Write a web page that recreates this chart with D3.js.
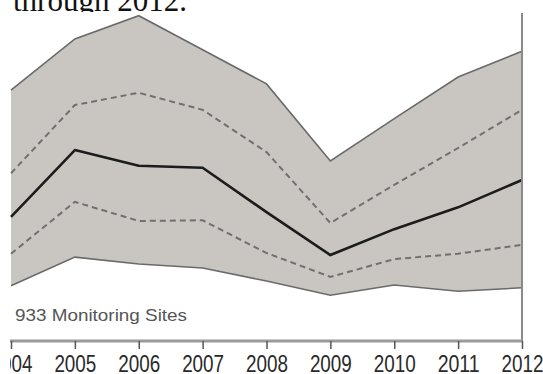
<!DOCTYPE html>
<html>
<head>
<meta charset="utf-8">
<script src="https://cdn.jsdelivr.net/npm/d3@7"></script>
<style>
  html, body { margin: 0; padding: 0; background: #fff; }
  svg { display: block; }
</style>
</head>
<body>
<script>
// ---- data (ozone concentration, ppm) ----
const years = [2004, 2005, 2006, 2007, 2008, 2009, 2010, 2011, 2012];
const p90   = [0.0868, 0.0943, 0.0977, 0.0927, 0.0877, 0.0764, 0.0826, 0.0887, 0.0925];
const p75   = [0.0746, 0.0846, 0.0864, 0.0839, 0.0777, 0.0673, 0.0729, 0.0783, 0.0839];
const p50   = [0.0682, 0.0780, 0.0757, 0.0754, 0.0689, 0.0626, 0.0664, 0.0696, 0.0736];
const p25   = [0.0628, 0.0704, 0.0676, 0.0677, 0.0629, 0.0594, 0.0620, 0.0628, 0.0641];
const p10   = [0.0581, 0.0623, 0.0613, 0.0607, 0.0588, 0.0567, 0.0582, 0.0573, 0.0578];
const tickLabels = ["2004","2005","2006","2007","2008","2009","2010","2011","2012"];
const headText = "through 2012.";
const noteText = "933 Monitoring Sites";

const W = 543, H = 374;
const svg = d3.select("body").append("svg").attr("width", W).attr("height", H);

const x = d3.scaleLinear().domain([2004, 2012]).range([11, 522]);
const y = d3.scaleLinear().domain([0.05, 0.10]).range([341, 0]);

// heading text (partially cut at top)
svg.append("text")
  .attr("x", 13).attr("y", 11)
  .attr("font-family", "'Liberation Serif', 'Times New Roman', serif")
  .attr("font-size", 31)
  .attr("fill", "#111")
  .text(headText);

// clip for chart
svg.append("clipPath").attr("id", "clip")
  .append("rect").attr("x", 10).attr("y", 12).attr("width", W - 10).attr("height", H - 12);

// white chart background covering descenders of heading
svg.append("rect").attr("x", 0).attr("y", 12).attr("width", W).attr("height", H - 12).attr("fill", "#fff");

const g = svg.append("g").attr("clip-path", "url(#clip)");

const idx = d3.range(years.length);
const area = d3.area()
  .x(i => x(years[i]))
  .y0(i => y(p10[i]))
  .y1(i => y(p90[i]));
g.append("path").datum(idx).attr("d", area).attr("fill", "#c9c6c1");

const lineOf = arr => d3.line().x(i => x(years[i])).y(i => y(arr[i]));

[p90, p10].forEach(arr => {
  g.append("path").datum(idx).attr("d", lineOf(arr))
    .attr("fill", "none").attr("stroke", "#6a6a6a").attr("stroke-width", 1.6);
});
[p75, p25].forEach(arr => {
  g.append("path").datum(idx).attr("d", lineOf(arr))
    .attr("fill", "none").attr("stroke", "#707070").attr("stroke-width", 2)
    .attr("stroke-dasharray", "6,4");
});
g.append("path").datum(idx).attr("d", lineOf(p50))
  .attr("fill", "none").attr("stroke", "#1c1c1c").attr("stroke-width", 2.6)
  .attr("stroke-linejoin", "round");

// note text
g.append("text")
  .attr("x", 15).attr("y", 321)
  .attr("font-family", "'Liberation Sans', Arial, sans-serif")
  .attr("font-size", 17)
  .attr("fill", "#555")
  .attr("textLength", 172).attr("lengthAdjust", "spacingAndGlyphs")
  .text(noteText);

// right vertical axis line
g.append("line")
  .attr("x1", x(2012)).attr("x2", x(2012))
  .attr("y1", 13).attr("y2", y(0.05))
  .attr("stroke", "#8a8a8a").attr("stroke-width", 2);

// bottom axis
const axis = d3.axisBottom(x)
  .tickValues(years)
  .tickFormat((d, i) => tickLabels[i])
  .tickSize(8)
  .tickSizeOuter(0)
  .tickPadding(6);
const ax = g.append("g").attr("transform", `translate(0,${y(0.05)})`).call(axis);
ax.select(".domain").attr("stroke", "#9a9a9a").attr("stroke-width", 3)
  .attr("d", `M9,0H${x(2012)}`);
ax.selectAll(".tick line").attr("stroke", "#555").attr("stroke-width", 1.5);
ax.selectAll(".tick text")
  .attr("font-family", "'Liberation Sans', Arial, sans-serif")
  .attr("font-size", 23)
  .attr("fill", "#2a2a2a")
  .attr("y", 31).attr("dy", 0)
  .attr("textLength", 42).attr("lengthAdjust", "spacingAndGlyphs");
</script>
</body>
</html>
